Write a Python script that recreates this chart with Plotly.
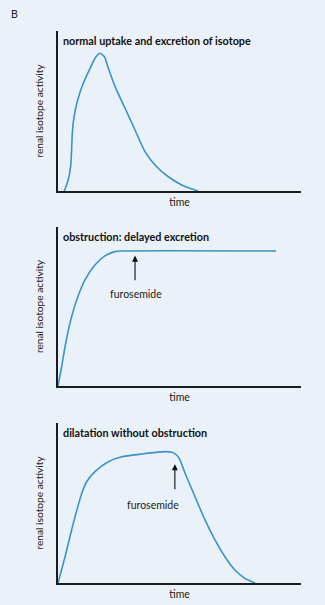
import plotly.graph_objects as go

# Renogram curves: relative time (0-100) vs renal isotope activity (0-100)
normal_time = [2.6, 4.2, 5.2, 5.6, 5.9, 6.6, 8.1, 10.4, 13.2, 15.5, 17.3, 19.1, 20.5,
               23.5, 27.6, 31.7, 35.8, 39.9, 45.4, 50.9, 56.4, 57.7]
normal_activity = [0, 6.9, 15.2, 25.6, 36.3, 46.4, 56.9, 67.3, 76.7, 83.6, 86.1, 83.9, 77.7,
                   65.2, 51.7, 38.1, 24.6, 16.3, 8.9, 3.8, 0.6, 0]

obstruction_time = [0, 1.5, 2.9, 4.9, 7.7, 11.1, 15.2, 19.3, 23.5, 26.2, 89.7]
obstruction_activity = [0, 12.1, 24.7, 39.4, 54.1, 66.7, 76.1, 81.8, 84.5, 84.9, 84.9]

dilatation_time = [0, 2.9, 6.3, 9.8, 11.8, 15.2, 20.7, 26.2, 34.4, 44.0, 46.8, 48.8, 50.2,
                   52.3, 56.4, 60.5, 64.6, 68.7, 72.8, 76.9, 81.1]
dilatation_activity = [0, 16.4, 37.3, 56.1, 63.3, 69.6, 75.8, 78.9, 80.6, 82.1, 81.7, 80, 76.9,
                       68.6, 53.9, 39.4, 26.9, 16.4, 8.1, 2.9, 0]

panel_titles = [
    "normal uptake and excretion of isotope",
    "obstruction: delayed excretion",
    "dilatation without obstruction",
]

# Furosemide injection marks:
# (arrow time, arrow tail activity, arrow head activity, label time, label top activity)
furosemide_obstruction = (31.7, 65.5, 82, 32.3, 63)
furosemide_dilatation = (48.1, 57.7, 74.2, 39.2, 54)

W, H = 325, 605
BG = "#eaf1f8"
LINE = "#3a93c9"
AX = "#1c1c1c"
FONT = "Lato"

x_dom = [58 / W, 301 / W]
y_doms = [
    [1 - 191 / H, 1 - 31 / H],
    [1 - 386 / H, 1 - 227 / H],
    [1 - 583 / H, 1 - 423 / H],
]

series = [
    (normal_time, normal_activity),
    (obstruction_time, obstruction_activity),
    (dilatation_time, dilatation_activity),
]

fig = go.Figure()
layout = dict(
    width=W,
    height=H,
    margin=dict(l=0, r=0, t=0, b=0),
    paper_bgcolor=BG,
    plot_bgcolor=BG,
    showlegend=False,
    font=dict(family=FONT, color="#222222"),
)

annotations = []
for i, ((t, a), dom, title) in enumerate(zip(series, y_doms, panel_titles)):
    n = "" if i == 0 else str(i + 1)
    xa, ya = "x" + n, "y" + n
    fig.add_trace(go.Scatter(
        x=t, y=a, mode="lines", xaxis=xa, yaxis=ya,
        line=dict(color=LINE, width=1.6, shape="spline", smoothing=0.6),
        hoverinfo="skip",
    ))
    axis_common = dict(showgrid=False, zeroline=False, showticklabels=False,
                       ticks="", showline=True, linecolor=AX, linewidth=2)
    layout["xaxis" + n] = dict(domain=x_dom, range=[0, 100], anchor=ya,
                               title=dict(text="time", font=dict(size=10.5, family=FONT), standoff=7),
                               **axis_common)
    layout["yaxis" + n] = dict(domain=dom, range=[0, 100], anchor=xa,
                               title=dict(text="renal isotope activity", font=dict(size=10.2, family=FONT), standoff=10),
                               **axis_common)
    annotations.append(dict(
        text="<b>" + title + "</b>", xref="paper", yref="paper",
        x=61 / W, y=dom[1] - 1 / H, xanchor="left", yanchor="top",
        showarrow=False, font=dict(size=10.8, family=FONT, color="#111111"),
    ))

for n, (t, tail, head, lt, lab) in (("2", furosemide_obstruction), ("3", furosemide_dilatation)):
    annotations.append(dict(
        x=t, y=head, ax=t, ay=tail, xref="x" + n, yref="y" + n,
        axref="x" + n, ayref="y" + n, text="", showarrow=True,
        arrowhead=2, arrowsize=1.1, arrowwidth=1.1, arrowcolor="#111111",
    ))
    annotations.append(dict(
        x=lt, y=lab, xref="x" + n, yref="y" + n, text="furosemide",
        showarrow=False, yanchor="top", font=dict(size=10.5, family=FONT, color="#222222"),
    ))

annotations.append(dict(
    text="B", xref="paper", yref="paper", x=9 / W, y=1 - 6 / H,
    xanchor="left", yanchor="top", showarrow=False,
    font=dict(size=10.5, family=FONT, color="#222222"),
))

layout["annotations"] = annotations
fig.update_layout(**layout)
fig.write_html("out.html")
